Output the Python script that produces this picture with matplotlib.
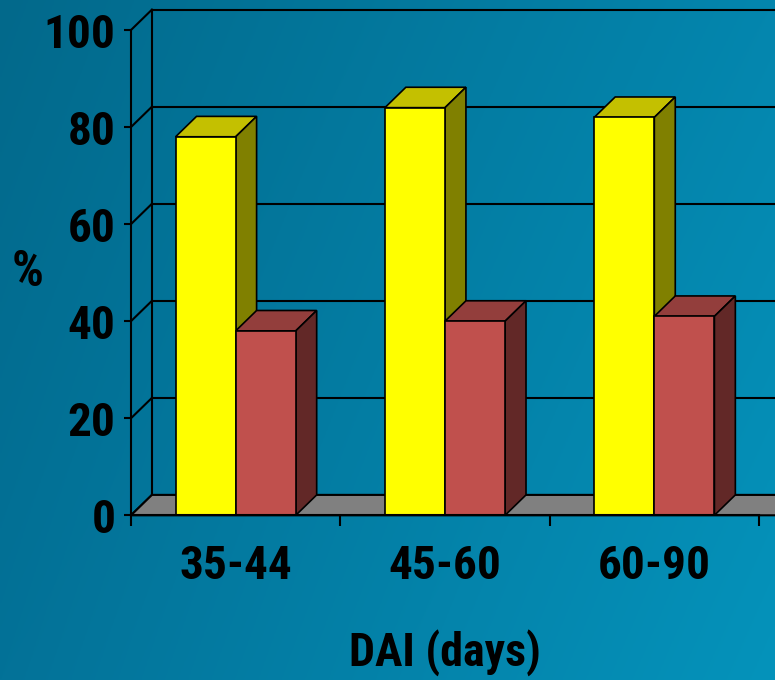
import numpy as np
import matplotlib
matplotlib.use('Agg')
import matplotlib.pyplot as plt
from matplotlib.patches import Polygon
from matplotlib import font_manager

# datos
categories = ['35-44', '45-60', '60-90']
yellow_vals = [78, 84, 82]
red_vals = [38, 40, 41]
y_ticks = [0, 20, 40, 60, 80, 100]

names = {f.name for f in font_manager.fontManager.ttflist}
fuente = 'Liberation Sans'
for cand in ['Liberation Sans Narrow', 'Roboto Condensed', 'PT Sans Narrow']:
    if cand in names:
        fuente = cand
        break
plt.rcParams['font.family'] = [fuente, 'DejaVu Sans']
plt.rcParams['font.weight'] = 'bold'

W, H = 775, 680
fig = plt.figure(figsize=(W / 100, H / 100), dpi=100)

# fondo degradado
bg = fig.add_axes([0, 0, 1, 1], zorder=-10)
t, s = np.meshgrid(np.linspace(0, 1, 300), np.linspace(0, 1, 300))
t = t[..., None]
s = s[..., None]
c_tl = np.array([0x02, 0x69, 0x8b]) / 255
c_tr = np.array([0x04, 0x86, 0xae]) / 255
c_bl = np.array([0x03, 0x72, 0x98]) / 255
c_br = np.array([0x05, 0x93, 0xbb]) / 255
img = (1 - t) * (1 - s) * c_tl + t * (1 - s) * c_tr + (1 - t) * s * c_bl + t * s * c_br
bg.imshow(img, aspect='auto', extent=[0, 1, 0, 1], origin='upper')
bg.set_axis_off()

ax = fig.add_axes([131 / W, (H - 515.3) / H, (759 - 131) / W, (515.3 - 30) / H])
ax.set_facecolor('none')
ax.set_xlim(-0.5, 2.5)
ax.set_ylim(0, 100)

DX, DY = 0.1, 4.2   # profundidad 3D
bw = 0.287
lw = 1.5
x = np.arange(len(categories))

# paredes y piso
for v in y_ticks:
    ax.plot([-0.5 + DX, 2.6 + DX], [v + DY, v + DY], color='k', lw=lw, clip_on=False, zorder=0.5)
    ax.plot([-0.5, -0.5 + DX], [v, v + DY], color='k', lw=lw, clip_on=False, zorder=0.5)
ax.plot([-0.5 + DX, -0.5 + DX], [DY, 100 + DY], color='k', lw=lw, clip_on=False, zorder=0.5)
floor = Polygon([(-0.5, 0), (2.6, 0), (2.6 + DX, DY), (-0.5 + DX, DY)],
                closed=True, fc='#808080', ec='k', lw=lw, zorder=1, clip_on=False)
ax.add_patch(floor)


def caja(x0, h, top, side, z):
    ax.add_patch(Polygon([(x0, h), (x0 + bw, h), (x0 + bw + DX, h + DY), (x0 + DX, h + DY)],
                         closed=True, fc=top, ec='k', lw=1.2, zorder=z, clip_on=False))
    ax.add_patch(Polygon([(x0 + bw, 0), (x0 + bw + DX, DY), (x0 + bw + DX, h + DY), (x0 + bw, h)],
                         closed=True, fc=side, ec='k', lw=1.2, zorder=z, clip_on=False))


for i in range(len(categories)):
    caja(x[i] - bw, yellow_vals[i], '#c4c000', '#808000', 2)
    caja(x[i], red_vals[i], '#933e3c', '#622827', 3)

ax.bar(x - bw / 2, yellow_vals, bw, color='#ffff00', edgecolor='k', lw=1.2, zorder=4, clip_on=False)
ax.bar(x + bw / 2, red_vals, bw, color='#c0504d', edgecolor='k', lw=1.2, zorder=4, clip_on=False)

# ejes
for sp in ['top', 'right']:
    ax.spines[sp].set_visible(False)
for sp in ['left', 'bottom']:
    ax.spines[sp].set_linewidth(lw)
    ax.spines[sp].set_zorder(5)
ax.set_yticks(y_ticks)
ax.tick_params(axis='y', length=5.3, width=lw, pad=6, labelsize=34)
ax.set_xticks(x)
ax.set_xticklabels(categories)
ax.set_xticks([-0.5, 0.5, 1.5, 2.5], minor=True)
ax.tick_params(axis='x', which='major', length=0, pad=21, labelsize=34)
ax.tick_params(axis='x', which='minor', length=8, width=lw)

fig.text(28 / W, 1 - 272 / H, '%', fontsize=36, ha='center', va='center')
fig.text(444.5 / W, 1 - 666 / H, 'DAI (days)', fontsize=33, ha='center', va='baseline')

fig.savefig('out.png', dpi=100)
